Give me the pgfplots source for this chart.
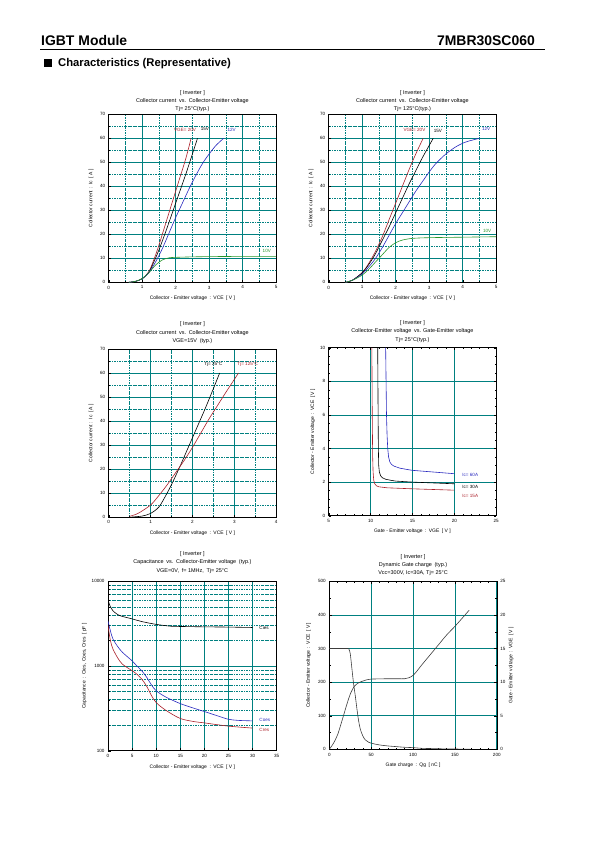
\documentclass[border=0pt]{standalone}
\usepackage{fontspec}
\setmainfont{Liberation Sans}
\usepackage{pgfplots}
\pgfplotsset{compat=1.18}
\definecolor{gridteal}{RGB}{0,128,128}
\definecolor{cred}{RGB}{170,30,40}
\definecolor{cblue}{RGB}{40,40,190}
\definecolor{cgreen}{RGB}{40,150,40}
\definecolor{cgray}{RGB}{60,60,60}
\newcommand{\tf}{\fontsize{5.5}{8.3}\selectfont}
\newcommand{\lf}{\fontsize{5}{6}\selectfont}
\newcommand{\kf}{\fontsize{4.6}{5}\selectfont}
\pgfplotsset{
  ds/.style={
    scale only axis, width=167.5bp, height=168bp,
    axis line style={black, line width=0.6bp},
    every tick/.style={black, line width=0.4bp},
    major tick length=2.5bp, minor tick length=1.5bp,
    tick align=inside,
    ticklabel style={font=\kf},
    label style={font=\lf},
    title style={font=\tf, align=center},
    /pgf/number format/assume math mode=true,
    major grid style={gridteal, line width=0.7bp},
    minor grid style={gridteal, line width=0.5bp, dash pattern=on 2.5bp off 1bp on 0.6bp off 1bp},
    every axis plot/.append style={line width=0.6bp},
    xlabel style={at={(axis description cs:0.5,-0.095)}, anchor=center},
    ylabel style={at={(axis description cs:-0.105,0.5)}, anchor=center},
  },
  icv/.style={ds, xmin=0, xmax=5, ymin=0, ymax=70, xtick={0,...,5}, ytick={0,10,...,70},
    minor tick num=1, grid=both, xtick pos=bottom, ytick pos=left,
    xlabel={Collector - Emitter voltage\enspace:\enspace VCE\enspace[ V ]},
    ylabel={Collector current\enspace:\enspace Ic\enspace[ A ]}},
}
\begin{document}
\begin{tikzpicture}
\path[use as bounding box] (0,0) rectangle (595bp,-842bp);
% header
\node[anchor=base west, font=\fontsize{14}{16}\selectfont\bfseries, inner sep=0] at (41bp,-45.5bp) {IGBT Module};
\node[anchor=base east, font=\fontsize{14}{16}\selectfont\bfseries, inner sep=0] at (535bp,-45.5bp) {7MBR30SC060};
\draw[line width=1.3bp] (40bp,-49.5bp) -- (545bp,-49.5bp);
\fill (44bp,-58.5bp) rectangle (52bp,-66.5bp);
\node[anchor=base west, font=\fontsize{11.3}{13}\selectfont\bfseries, inner sep=0] at (58bp,-66.3bp) {Characteristics (Representative)};

% ---------- Plot 1 ----------
\begin{axis}[icv, at={(108.7bp,-282.3bp)}, anchor=south west, title style={yshift=-7bp},
  title={[ Inverter ]\\Collector current\enspace vs.\enspace Collector-Emitter voltage\\Tj= 25°C(typ.)}]
\addplot[cred, smooth] coordinates {(0.6,0) (0.8,0.4) (1.0,1.5) (1.2,4.5) (1.35,9.5) (1.5,15.5) (1.7,24.5) (1.9,33.5) (2.1,42.5) (2.3,51.5) (2.46,60)};
\addplot[black, smooth] coordinates {(0.6,0) (0.8,0.4) (1.0,1.5) (1.2,4.2) (1.38,9.5) (1.5,13.5) (1.7,21) (1.9,29) (2.1,37) (2.3,45) (2.5,53.5) (2.65,60)};
\addplot[cblue, smooth] coordinates {(0.6,0) (0.8,0.4) (1.0,1.5) (1.2,4) (1.4,8.5) (1.6,14) (1.8,20.5) (2.0,27) (2.2,33) (2.4,39) (2.6,44.5) (2.8,49.5) (3.0,53.5) (3.2,57) (3.43,60)};
\addplot[cgreen, smooth] coordinates {(0.6,0) (0.8,0.4) (1.0,1.6) (1.2,4) (1.4,7.2) (1.6,9.3) (1.8,10.2) (2.0,10.4) (2.5,10.6) (3,10.7) (4,10.8) (5,10.8)};
\node[cred, font=\kf] at (axis cs:2.28,63.7) {VGE= 20V};
\node[black, font=\kf] at (axis cs:2.87,63.7) {15V};
\node[cblue, font=\kf] at (axis cs:3.67,63.7) {12V};
\node[cgreen, font=\kf] at (axis cs:4.72,12.9) {10V};
\end{axis}

% ---------- Plot 2 ----------
\begin{axis}[icv, at={(328.7bp,-282.3bp)}, anchor=south west, title style={yshift=-7bp},
  title={[ Inverter ]\\Collector current\enspace vs.\enspace Collector-Emitter voltage\\Tj= 125°C(typ.)}]
\addplot[cred, smooth] coordinates {(0.5,0) (0.7,0.8) (1.0,4) (1.2,8) (1.4,13) (1.6,19) (1.8,26) (2.0,33) (2.2,40) (2.4,47) (2.6,53.5) (2.82,60)};
\addplot[black, smooth] coordinates {(0.5,0) (0.7,0.8) (1.0,4) (1.2,7.5) (1.4,12) (1.6,17.5) (1.8,23) (2.0,29) (2.2,35) (2.4,41) (2.6,46.5) (2.8,52) (3.12,60)};
\addplot[cblue, smooth] coordinates {(0.5,0) (0.7,0.8) (1.0,3.5) (1.2,6.5) (1.4,10) (1.6,14.5) (1.8,19.5) (2.0,24.5) (2.2,29) (2.4,33.5) (2.6,38) (2.8,42) (3.0,46) (3.2,49.5) (3.5,53.5) (3.8,56.5) (4.1,58.5) (4.5,60)};
\addplot[cgreen, smooth] coordinates {(0.5,0) (0.7,0.8) (1.0,3) (1.2,5.5) (1.4,8.5) (1.6,11.5) (1.8,14.5) (2.0,16.5) (2.2,17.6) (2.5,18.3) (3,18.6) (4,18.8) (5,19)};
\node[cred, font=\kf] at (axis cs:2.56,63.7) {VGE= 20V};
\node[black, font=\kf] at (axis cs:3.26,63) {15V};
\node[cblue, font=\kf] at (axis cs:4.7,64) {12V};
\node[cgreen, font=\kf] at (axis cs:4.73,21.3) {10V};
\end{axis}

% ---------- Plot 3 ----------
\begin{axis}[icv, at={(108.7bp,-517bp)}, anchor=south west, xmax=4, xtick={0,...,4}, title style={yshift=-4bp},
  title={[ Inverter ]\\Collector current\enspace vs.\enspace Collector-Emitter voltage\\VGE=15V\enspace (typ.)}]
\addplot[black, smooth] coordinates {(0.55,0) (0.8,0.4) (1.0,1.5) (1.2,4.2) (1.38,9.5) (1.5,13.5) (1.7,21) (1.9,29) (2.1,37) (2.3,45) (2.5,53.5) (2.65,60)};
\addplot[cred, smooth] coordinates {(0.5,0.3) (0.7,1.5) (1.0,5) (1.2,9) (1.4,13.5) (1.6,18.5) (1.8,23.5) (2.0,29) (2.2,35) (2.4,41) (2.6,46.5) (2.8,52) (3.1,60)};
\node[black, font=\kf] at (axis cs:2.5,63.8) {Tj= 25°C};
\node[cred, font=\kf] at (axis cs:3.32,63.8) {Tj= 125°C};
\end{axis}

% ---------- Plot 4 ----------
\begin{axis}[ds, at={(328.7bp,-515.7bp)}, anchor=south west, title style={yshift=-4bp},
  xmin=5, xmax=25, ymin=0, ymax=10, xtick={5,10,...,25}, ytick={0,2,...,10},
  minor x tick num=4, minor y tick num=3, grid=major,
  ylabel style={at={(axis description cs:-0.095,0.5)}},
  title={[ Inverter ]\\Collector-Emitter voltage\enspace vs. Gate-Emitter voltage\\Tj= 25°C(typ.)},
  xlabel={Gate - Emitter voltage\enspace:\enspace VGE\enspace[ V ]},
  ylabel={Collector - Emitter voltage\enspace:\enspace VCE\enspace[ V ]}]
\addplot[cblue] coordinates {(11.8,10) (11.85,8) (11.9,6) (11.97,4.8) (12.05,4.0) (12.15,3.5) (12.3,3.2) (12.5,3.05) (12.8,2.95) (13.5,2.83) (14.5,2.74) (15,2.7) (17.5,2.6) (20,2.5)};
\addplot[black] coordinates {(10.85,10) (10.9,6) (10.93,4) (10.97,3.0) (11.05,2.6) (11.2,2.38) (11.4,2.26) (11.8,2.17) (12.5,2.1) (13,2.06) (15,2.0) (17.5,1.95) (20,1.9)};
\addplot[cred] coordinates {(10.15,10) (10.2,6) (10.25,3.5) (10.3,2.6) (10.38,2.1) (10.5,1.9) (10.7,1.78) (11,1.72) (12,1.66) (15,1.6) (17.5,1.56) (20,1.52)};
\node[cblue, font=\kf] at (axis cs:21.9,2.43) {Ic= 60A};
\node[black, font=\kf] at (axis cs:21.9,1.69) {Ic= 30A};
\node[cred, font=\kf] at (axis cs:21.9,1.2) {Ic= 15A};
\end{axis}

% ---------- Plot 5 ----------
\begin{axis}[ds, at={(108bp,-750.7bp)}, anchor=south west, width=168.7bp, height=169.4bp, title style={yshift=-1.5bp},
  xmin=0, xmax=35, ymin=100, ymax=10000, ymode=log,
  xtick={0,5,...,35}, ytick={100,1000,10000}, yticklabels={100,1000,10000},
  minor ytick={200,300,400,500,600,700,800,900,2000,3000,4000,5000,6000,7000,8000,9000},
  minor x tick num=0, grid=both, xtick pos=bottom, ytick pos=left,
  ylabel style={at={(axis description cs:-0.14,0.5)}},
  title={[ Inverter ]\\Capacitance\enspace vs.\enspace Collector-Emitter voltage\enspace (typ.)\\VGE=0V,\enspace f= 1MHz,\enspace Tj= 25°C},
  xlabel={Collector - Emitter voltage\enspace:\enspace VCE\enspace[ V ]},
  ylabel={Capacitance\enspace:\enspace Cies, Coes, Cres\enspace[ pF ]}]
\addplot[black, smooth] coordinates {(0,6000) (0.5,5000) (1,4500) (2,4050) (3,3850) (5,3600) (7,3350) (10,3100) (13,2950) (15,2930) (20,2900) (25,2880) (30,2850)};
\addplot[cblue, smooth] coordinates {(0,3400) (0.5,2600) (1,2100) (2,1700) (3,1450) (5,1150) (6,1000) (7,880) (8,740) (9,600) (10,510) (12,430) (15,360) (18,315) (20,290) (23,255) (25,235) (27,228) (30,225)};
\addplot[cred, smooth] coordinates {(0,3000) (0.5,2000) (1,1600) (2,1250) (3,1050) (5,880) (6,800) (7,700) (8,580) (9,450) (10,370) (12,300) (15,240) (18,220) (20,213) (25,195) (30,185)};
\node[black, font=\kf, anchor=west] at (axis cs:30.7,2790) {Cies};
\node[cblue, font=\kf, anchor=west] at (axis cs:30.7,228) {Coes};
\node[cred, font=\kf, anchor=west] at (axis cs:30.7,176) {Cres};
\end{axis}

% ---------- Plot 6 ----------
\begin{axis}[ds, at={(329.3bp,-749.3bp)}, anchor=south west, title style={yshift=-4bp},
  xmin=0, xmax=200, ymin=0, ymax=500, xtick={0,50,...,200}, ytick={0,100,...,500},
  minor x tick num=4, minor y tick num=1, grid=major, ytick pos=left,
  ylabel style={at={(axis description cs:-0.123,0.5)}},
  title={[ Inverter ]\\Dynamic Gate charge\enspace (typ.)\\Vcc=300V, Ic=30A, Tj= 25°C},
  xlabel={Gate charge\enspace:\enspace Qg\enspace[ nC ]},
  ylabel={Collector - Emitter voltage\enspace:\enspace VCE\enspace[ V ]}]
\addplot[cgray, smooth] coordinates {(0,300) (22,300) (23.5,297) (25,285) (27,240) (29,195) (31,160) (33,120) (35,85) (37,60) (40,40) (43,28) (47,21) (52,17) (60,13) (70,10) (80,8) (90,6) (100,5) (110,3) (125,2) (145,1) (168,0.5)};
\end{axis}
\begin{axis}[ds, at={(329.3bp,-749.3bp)}, anchor=south west,
  xmin=0, xmax=200, ymin=0, ymax=25, ytick={0,5,...,25}, minor y tick num=1,
  grid=none, xmajorgrids=false, ymajorgrids=false,
  axis y line*=right, hide x axis,
  ylabel style={at={(axis description cs:1.085,0.5)}},
  ylabel={Gate - Emitter voltage\enspace:\enspace VGE\enspace[ V ]}]
\addplot[cgray, smooth] coordinates {(0,0) (5,0.9) (10,2.2) (15,4.2) (20,6.3) (23,7.5) (26,8.5) (30,9.4) (35,9.9) (40,10.15) (45,10.35) (50,10.45) (70,10.5) (90,10.5) (95,10.65) (100,11.0) (105,11.7) (110,12.5) (120,14.0) (130,15.5) (140,17.0) (150,18.3) (160,19.7) (167,20.7)};
\end{axis}
\end{tikzpicture}
\end{document}
